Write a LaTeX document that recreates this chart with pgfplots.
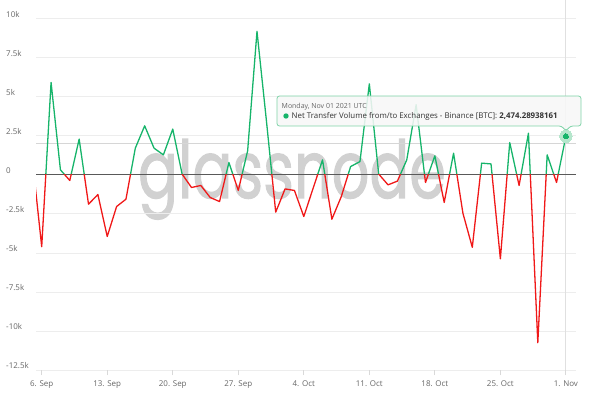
\documentclass[border=0pt]{standalone}
\usepackage{fontspec}
\setmainfont{Open Sans}
\newfontfamily\wmfont[FakeBold=1.5]{Poppins}
\usepackage{pgfplots}
\usepackage{pgfplotstable}
\pgfplotsset{compat=1.18}
\definecolor{linegreen}{HTML}{16B46A}
\definecolor{linered}{HTML}{F01818}
\definecolor{tipgreen}{HTML}{7FD3A8}
\definecolor{halo}{HTML}{B5E6CC}
\definecolor{ticktxt}{HTML}{666666}
\definecolor{gridc}{HTML}{EDEDED}

\pgfplotstableread{
day val
-1 1.0
0 -4.6
1 5.92
2 0.32
3 -0.36
4 2.29
5 -1.88
6 -1.26
7 -3.95
8 -2.03
9 -1.56
10 1.71
11 3.14
12 1.71
13 1.28
14 2.93
15 0.05
16 -0.81
17 -0.68
18 -1.45
19 -1.71
20 0.79
21 -1.0
22 1.54
23 9.19
24 3.5
25 -2.39
26 -0.9
27 -1.0
28 -2.67
29 -0.85
30 0.96
31 -2.84
32 -1.4
33 0.53
34 0.85
35 5.83
36 0.05
37 -0.64
38 -0.4
39 0.96
40 4.49
41 -0.49
42 1.22
43 -1.77
44 1.39
45 -2.46
46 -4.64
47 0.75
48 0.70
49 -5.38
50 2.07
51 -0.68
52 2.67
53 -10.75
54 1.28
55 -0.49
56 2.474
}\datatable

\begin{document}
\begin{tikzpicture}
% watermark
\node[anchor=base, text=black!18, inner sep=0pt] at (292bp,199bp) {\scalebox{0.74}[1.0]{\wmfont\fontsize{80}{80}\selectfont glassnode}};

\begin{axis}[
  at={(36bp,27bp)}, anchor=south west,
  scale only axis, width=540bp, height=370bp,
  xmin=-0.61, xmax=57.08, ymin=-12.5, ymax=11.2,
  axis line style={draw=none},
  ymajorgrids, grid style={draw=gridc, line width=0.8pt},
  xtick={0,7,...,56},
  xticklabels={6. Sep,13. Sep,20. Sep,27. Sep,4. Oct,11. Oct,18. Oct,25. Oct,1. Nov},
  ytick={-12.5,-10,-7.5,-5,-2.5,0,2.5,5,7.5,10},
  yticklabels={-12.5k,-10k,-7.5k,-5k,-2.5k,0,2.5k,5k,7.5k,10k},
  xtick pos=bottom, ytick pos=left,
  tick align=outside, major tick length=5bp,
  xtick style={draw=black!15, line width=0.8pt},
  ytick style={draw=none},
  ticklabel style={font=\fontsize{8}{9}\selectfont, text=ticktxt, inner sep=0pt},
  xticklabel style={anchor=north, yshift=-6bp},
  yticklabel style={anchor=west, xshift=-25bp, yshift=4bp},
  clip=true,
]
% light horizontal line
\addplot[draw=black!16, line width=0.9pt, forget plot] coordinates {(-0.61,2.03) (57.08,2.03)};
% crosshair vertical line
\addplot[draw=black!12, line width=1.2pt, forget plot] coordinates {(56,-12.5) (56,11.2)};
% zero line
\addplot[draw=black!65, line width=1.1pt, forget plot] coordinates {(-0.61,0) (57.08,0)};
\begin{scope}
  \clip (axis cs:-5,0) rectangle (axis cs:60,20);
  \addplot[linegreen, line width=1.3pt, line join=round] table[x=day,y=val]{\datatable};
\end{scope}
\begin{scope}
  \clip (axis cs:-5,-20) rectangle (axis cs:60,0);
  \addplot[linered, line width=1.3pt, line join=round] table[x=day,y=val]{\datatable};
\end{scope}
\addplot[color=halo, only marks, mark=*, mark size=6.2bp, mark options={solid, draw=halo, fill=halo, line width=0pt}] coordinates {(56,2.474)};
\addplot[color=linegreen, only marks, mark=*, mark size=2.6bp, mark options={solid, draw=linegreen, fill=linegreen, line width=0pt}] coordinates {(56,2.474)};
\end{axis}

% tooltip
\draw[fill=black!3, fill opacity=0.88, draw=tipgreen, line width=0.8pt, rounded corners=2.5bp]
  (277bp,271bp) -- (277bp,301bp) -- (581bp,301bp) -- (581bp,271bp) -- (570.5bp,271bp)
  -- (566bp,266bp) -- (561.5bp,271bp) -- cycle;
\node[anchor=west, inner sep=0pt, text=ticktxt] at (281.5bp,290.5bp) {\fontsize{7}{8}\selectfont Monday, Nov 01 2021 UTC};
\fill[linegreen] (286bp,281bp) circle (2.7bp);
\node[anchor=west, inner sep=0pt, text=black!80] at (291.5bp,281bp) {\fontsize{7.9}{9}\selectfont Net Transfer Volume from/to Exchanges - Binance [BTC]: \textbf{2,474.28938161}};

\pgfresetboundingbox
\useasboundingbox (0,0) rectangle (589bp,397bp);
\end{tikzpicture}
\end{document}
